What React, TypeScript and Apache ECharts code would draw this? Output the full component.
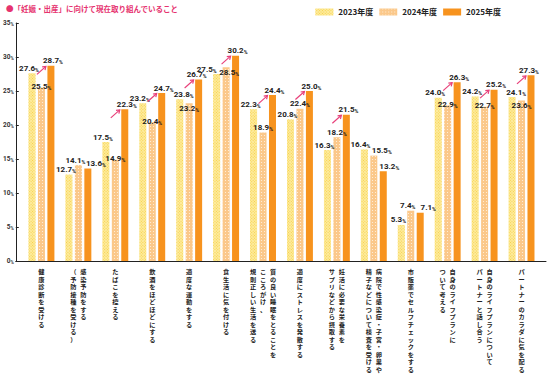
import React, { useEffect, useRef } from 'react';
import * as echarts from 'echarts';

const TITLE = '●「妊娠・出産」に向けて現在取り組んでいること';
const SERIES_NAMES = ['2023年度', '2024年度', '2025年度'];

// each category label, split into the columns of its vertical (top-to-bottom, right-to-left) text
const LABEL_LINES: string[][] = [
  ['健康診断を受ける'],
  ['感染予防をする', '（予防接種を受ける）'],
  ['たばこを控える'],
  ['飲酒をほどほどにする'],
  ['適度な運動をする'],
  ['食生活に気を付ける'],
  ['質の良い睡眠をとることを', 'こころがけ、', '規則正しい生活を送る'],
  ['適度にストレスを発散する'],
  ['妊活に必要な栄養素を', 'サプリなどから摂取する'],
  ['病院で性感染症・子宮・卵巣や', '精子などについて検査を受ける'],
  ['市販薬でセルフチェックをする'],
  ['自身のライフプランに', 'ついて考える'],
  ['自身のライフプランについて', 'パートナーと話し合う'],
  ['パートナーのカラダに気を配る'],
];
const CATEGORIES = LABEL_LINES.map((l) => l.join(''));

const Y2023 = [27.6, 12.7, 17.5, 23.2, 23.8, 27.5, 22.3, 20.8, 16.3, 16.4, 5.3, 24.0, 24.2, 24.1];
const Y2024 = [25.5, 14.1, 14.9, 20.4, 23.2, 28.5, 18.9, 22.4, 18.2, 15.5, 7.4, 22.9, 22.7, 23.6];
const Y2025 = [28.7, 13.6, 22.3, 24.7, 26.7, 30.2, 24.4, 25.0, 21.5, 13.2, 7.1, 26.3, 25.2, 27.3];

const Y_MIN = 0;
const Y_MAX = 35;
const Y_STEP = 5;

const BAR_W = 7;
const BAR_GAP = 0.35;
const BAR_STEP = BAR_W * (1 + BAR_GAP);
const ARROW_COLOR = '#E8407A';
const TEXT_COLOR = '#222';
const JP_FONT = "'Noto Sans CJK JP', sans-serif";
const NUM_FONT = 'Roboto, sans-serif';
const COL_SHIFT = 5;

// arrows where 2025 is the highest of the three years
const ARROWS = CATEGORIES.map((_, i) => i)
  .filter((i) => Y2025[i] > Y2023[i] && Y2025[i] > Y2024[i])
  .map((i) => [i, Y2023[i], Y2025[i]]);

const colRich: Record<string, any> = {};
const shifts: Record<string, number> = { l2: -2, l1: -1, c: 0, r1: 1, r2: 2 };
Object.keys(shifts).forEach((k) => {
  const s = shifts[k] * COL_SHIFT;
  colRich[k] = {
    fontSize: 6.2,
    lineHeight: 7.5,
    fontWeight: 'bold',
    fontFamily: JP_FONT,
    color: TEXT_COLOR,
    padding: s >= 0 ? [0, 0, 0, 2 * s] : [0, -2 * s, 0, 0],
  };
});

function columnFormatter(k: number) {
  return (_v: string, index: number) => {
    const lines = LABEL_LINES[index];
    const n = lines.length;
    if (k >= n) return '';
    const m = (n - 1) / 2 - k;
    let key = 'c';
    if (n === 2) key = m > 0 ? 'r1' : 'l1';
    if (n === 3) key = m > 0 ? 'r2' : m < 0 ? 'l2' : 'c';
    return `{${key}|${lines[k].split('').join('\n')}}`;
  };
}

function categoryAxis(k: number) {
  return {
    type: 'category',
    gridIndex: 0,
    position: 'bottom',
    offset: 0,
    data: CATEGORIES,
    axisLine: { show: false },
    axisTick: { show: false },
    splitLine: { show: false },
    axisLabel: {
      interval: 0,
      margin: 7,
      hideOverlap: false,
      verticalAlign: 'top',
      formatter: columnFormatter(k),
      rich: colRich,
    },
  };
}

const valueRich = {
  v: { fontSize: 8, fontWeight: 'bold', fontFamily: NUM_FONT, color: TEXT_COLOR, verticalAlign: 'bottom' },
  p: { fontSize: 5.2, fontWeight: 'bold', fontFamily: NUM_FONT, color: TEXT_COLOR, verticalAlign: 'bottom' },
};

function labelCfg(off: number[]) {
  return {
    show: true,
    position: 'top',
    distance: 1,
    offset: off,
    formatter: (p: any) => `{v|${Number(p.value).toFixed(1)}}{p|%}`,
    rich: valueRich,
  };
}

// nudge labels apart when neighbouring values are close (as the reference does)
function labelOffsets(i: number) {
  const a = Y2023[i];
  const b = Y2024[i];
  const c = Y2025[i];
  let o23 = [-3, 0];
  let o24 = [0, 0];
  let o25 = [2, 0];
  const diff = b - a;
  if (Math.abs(diff) < 1.05) {
    if (c < b) {
      o23 = [-4, 0];
      o24 = [8, 0];
      o25 = [6, 0];
    } else if (diff > 0) {
      o24 = [3, 10];
      o23 = [-10, 0];
    } else {
      o24 = [0, 10];
      o23 = [4, 0];
      o25 = [-2, 0];
    }
  } else if (diff < 0 && diff > -3) {
    o24 = [0, 4];
  }
  if (Math.abs(c - b) < 1) {
    o25 = [8, 0];
    o24 = [o24[0] - 3, o24[1]];
  }
  return [o23, o24, o25];
}

function seriesData(values: number[], k: number) {
  return values.map((v, i) => ({ value: v, label: labelCfg(labelOffsets(i)[k]) }));
}

function barSeries(name: string, values: number[], k: number, itemStyle: any) {
  return {
    name,
    type: 'bar',
    xAxisIndex: 0,
    yAxisIndex: 0,
    data: seriesData(values, k),
    barWidth: BAR_W,
    barGap: `${BAR_GAP * 100}%`,
    itemStyle,
    label: labelCfg([0, 0]),
  };
}

export default function App() {
  const ref = useRef<HTMLDivElement>(null);

  useEffect(() => {
    document.body.style.margin = '0';
    if (!ref.current) return;
    const chart = echarts.init(ref.current, null, { renderer: 'svg' });

    const option: any = {
      animation: false,
      backgroundColor: '#fff',
      title: {
        text: TITLE,
        left: 1,
        top: 0,
        textStyle: { fontSize: 7.5, fontWeight: 'bold', color: '#E6336F', fontFamily: JP_FONT },
      },
      legend: {
        data: SERIES_NAMES,
        right: 42,
        top: 3,
        itemWidth: 18,
        itemHeight: 7,
        itemGap: 6,
        icon: 'rect',
        textStyle: { fontSize: 8, fontWeight: 'bold', color: TEXT_COLOR, fontFamily: JP_FONT },
      },
      grid: [
        { left: 23, right: 8, top: 23, bottom: 119 },
        { left: 14, right: 2, top: 23, bottom: 119 },
      ],
      xAxis: [
        categoryAxis(0),
        categoryAxis(1),
        categoryAxis(2),
        {
          type: 'value',
          gridIndex: 1,
          min: 0,
          max: 1,
          axisLine: { show: true, lineStyle: { color: TEXT_COLOR, width: 1 } },
          axisTick: { show: false },
          axisLabel: { show: false },
          splitLine: { show: false },
        },
      ],
      yAxis: [
        {
          type: 'value',
          gridIndex: 0,
          min: Y_MIN,
          max: Y_MAX,
          interval: Y_STEP,
          show: false,
          splitLine: { show: false },
        },
        {
          type: 'value',
          gridIndex: 1,
          min: Y_MIN,
          max: Y_MAX,
          interval: Y_STEP,
          axisLine: { show: true, lineStyle: { color: TEXT_COLOR, width: 1 } },
          axisTick: { show: true, inside: true, length: 3, lineStyle: { color: TEXT_COLOR } },
          splitLine: { show: false },
          axisLabel: {
            margin: 2,
            formatter: (v: number) => `{n|${v}}{p|%}`,
            rich: {
              n: { fontSize: 6.5, fontWeight: 'bold', fontFamily: NUM_FONT, color: '#333', verticalAlign: 'bottom' },
              p: { fontSize: 4.5, fontWeight: 'bold', fontFamily: NUM_FONT, color: '#333', verticalAlign: 'bottom' },
            },
          },
        },
      ],
      series: [
        barSeries(SERIES_NAMES[0], Y2023, 0, {
          color: '#FDEB9E',
          decal: {
            symbol: 'rect',
            symbolSize: 1,
            dashArrayX: [[1, 1]],
            dashArrayY: [1, 1],
            rotation: Math.PI / 4,
            color: '#F7D24A',
          },
        }),
        barSeries(SERIES_NAMES[1], Y2024, 1, {
          color: '#FBC88A',
          decal: {
            symbol: 'rect',
            symbolSize: 1,
            dashArrayX: [[1, 1.3]],
            dashArrayY: [1, 1.3],
            color: 'rgba(255,255,255,0.65)',
          },
        }),
        barSeries(SERIES_NAMES[2], Y2025, 2, { color: '#F7931E' }),
        {
          type: 'custom',
          name: 'arrows',
          xAxisIndex: 0,
          yAxisIndex: 0,
          silent: true,
          z: 10,
          data: ARROWS,
          encode: { x: 0, y: 2 },
          renderItem: (_params: any, api: any) => {
            const idx = api.value(0);
            const v25 = api.value(2);
            const p = api.coord([idx, v25]);
            const hx = p[0] + BAR_STEP - 5;
            const hy = p[1] + 0.5;
            const tx = hx - 9;
            const ty = hy + 8;
            const dx = hx - tx;
            const dy = hy - ty;
            const len = Math.hypot(dx, dy);
            const bx = -dx / len;
            const by = -dy / len;
            const ah = 3.8;
            const ang = 0.6;
            const rot = (a: number) => [bx * Math.cos(a) - by * Math.sin(a), bx * Math.sin(a) + by * Math.cos(a)];
            const a1 = rot(ang);
            const a2 = rot(-ang);
            const st = { stroke: ARROW_COLOR, lineWidth: 1.2, fill: 'none' };
            return {
              type: 'group',
              children: [
                { type: 'line', shape: { x1: tx, y1: ty, x2: hx, y2: hy }, style: st },
                {
                  type: 'polyline',
                  shape: {
                    points: [
                      [hx + a1[0] * ah, hy + a1[1] * ah],
                      [hx, hy],
                      [hx + a2[0] * ah, hy + a2[1] * ah],
                    ],
                  },
                  style: st,
                },
              ],
            };
          },
        },
      ],
    };

    chart.setOption(option);
    return () => chart.dispose();
  }, []);

  return <div ref={ref} style={{ width: 548, height: 380 }} />;
}
